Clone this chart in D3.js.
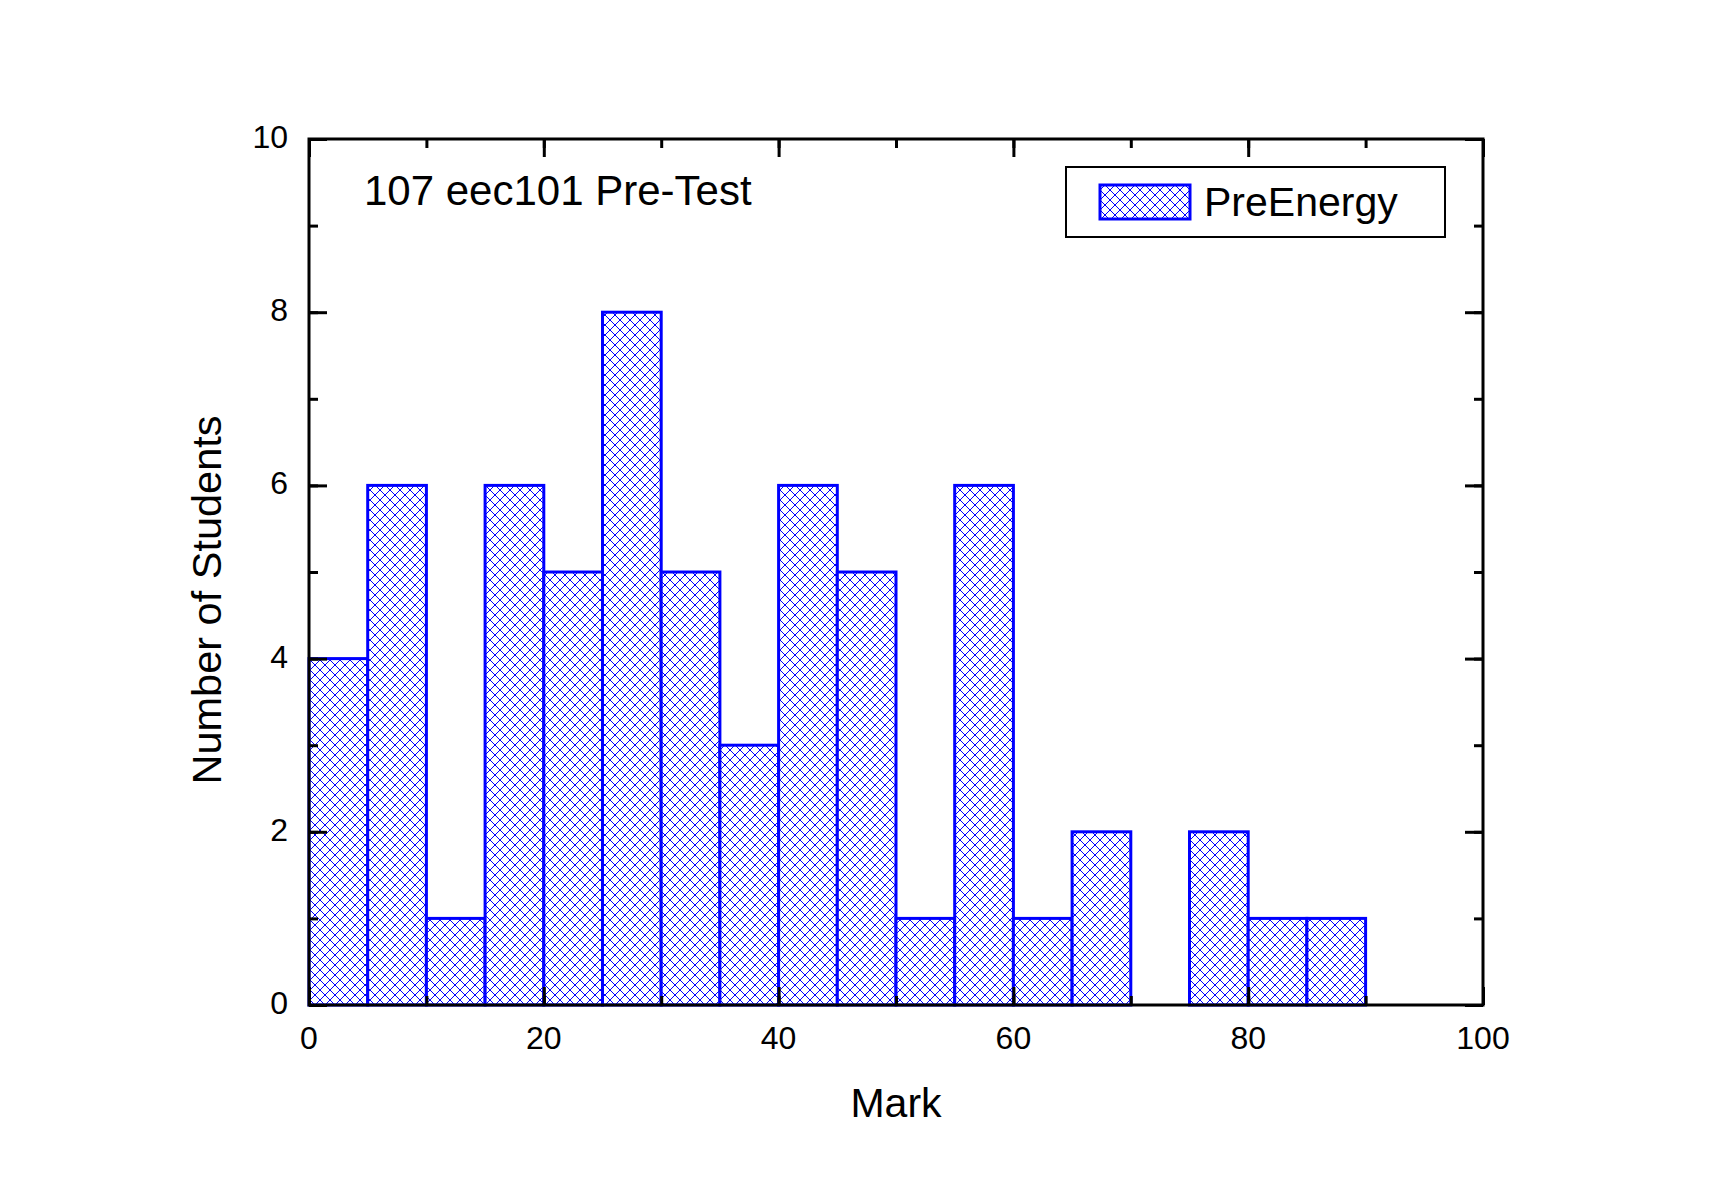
<!DOCTYPE html>
<html>
<head>
<meta charset="utf-8">
<script src="https://cdn.jsdelivr.net/npm/d3@7"></script>
<style>
  body { margin: 0; background: #fff; }
  text { font-family: "Liberation Sans", Arial, sans-serif; fill: #000; }
</style>
</head>
<body>
<div id="zone"></div>
<script>
(function() {
  "use strict";

  var binStarts = [0, 5, 10, 15, 20, 25, 30, 35, 40, 45, 50, 55, 60, 65, 70, 75, 80, 85];
  var counts    = [4, 6, 1, 6, 5, 8, 5, 3, 6, 5, 1, 6, 1, 2, 0, 2, 1, 1];
  var binWidth = 5;
  var xTicks = [0, 20, 40, 60, 80, 100];
  var yTicks = [0, 2, 4, 6, 8, 10];
  var seriesName = "PreEnergy";
  var titleText = "107 eec101 Pre-Test";

  var width = 1719, height = 1203;
  var left = 309, right = 1483, top = 139, bottom = 1005;
  var blue = "#0000ff";

  var x = d3.scaleLinear().domain([0, 100]).range([left, right]);
  var y = d3.scaleLinear().domain([0, 10]).range([bottom, top]);

  var svg = d3.select("#zone").append("svg")
      .attr("width", width)
      .attr("height", height);

  // motif quadrillé diagonal
  var pattern = svg.append("defs").append("pattern")
      .attr("id", "hatch")
      .attr("patternUnits", "userSpaceOnUse")
      .attr("width", 10)
      .attr("height", 10);
  pattern.append("rect").attr("width", 10).attr("height", 10).attr("fill", "#fff");
  pattern.append("path")
      .attr("d", "M0,0L10,10M10,0L0,10")
      .attr("stroke", blue)
      .attr("stroke-width", 1)
      .attr("fill", "none");

  // barres
  var bars = binStarts.map(function(d, i) { return { x0: d, n: counts[i] }; })
      .filter(function(d) { return d.n > 0; });

  svg.append("g").selectAll("rect")
    .data(bars)
    .enter().append("rect")
      .attr("x", function(d) { return x(d.x0); })
      .attr("y", function(d) { return y(d.n); })
      .attr("width", function(d) { return x(d.x0 + binWidth) - x(d.x0); })
      .attr("height", function(d) { return y(0) - y(d.n); })
      .attr("fill", "url(#hatch)")
      .attr("stroke", blue)
      .attr("stroke-width", 3);

  // axes (4 côtés, graduations vers l'intérieur)
  var minorX = d3.range(0, 101, 10);
  var minorY = d3.range(0, 11, 1);

  function tickAxis(axisFn, scale, values, len, transform) {
    svg.append("g")
      .attr("transform", transform)
      .call(axisFn(scale).tickValues(values).tickSize(len).tickFormat(""))
      .call(function(g) {
        g.select(".domain").remove();
        g.selectAll("line").attr("stroke", "#000").attr("stroke-width", 3);
      });
  }

  // bas
  tickAxis(d3.axisTop, x, minorX, 9, "translate(0," + bottom + ")");
  tickAxis(d3.axisTop, x, xTicks, 18, "translate(0," + bottom + ")");
  // haut
  tickAxis(d3.axisBottom, x, minorX, 9, "translate(0," + top + ")");
  tickAxis(d3.axisBottom, x, xTicks, 18, "translate(0," + top + ")");
  // gauche
  tickAxis(d3.axisRight, y, minorY, 9, "translate(" + left + ",0)");
  tickAxis(d3.axisRight, y, yTicks, 18, "translate(" + left + ",0)");
  // droite
  tickAxis(d3.axisLeft, y, minorY, 9, "translate(" + right + ",0)");
  tickAxis(d3.axisLeft, y, yTicks, 18, "translate(" + right + ",0)");

  svg.append("rect")
      .attr("x", left).attr("y", top)
      .attr("width", right - left).attr("height", bottom - top)
      .attr("fill", "none")
      .attr("stroke", "#000")
      .attr("stroke-width", 3);

  // étiquettes des graduations
  svg.append("g").selectAll("text")
    .data(xTicks)
    .enter().append("text")
      .attr("x", function(d) { return x(d); })
      .attr("y", 1049)
      .attr("text-anchor", "middle")
      .attr("font-size", 32)
      .text(function(d) { return d; });

  svg.append("g").selectAll("text")
    .data(yTicks)
    .enter().append("text")
      .attr("x", 288)
      .attr("y", function(d) { return y(d) + 9; })
      .attr("text-anchor", "end")
      .attr("font-size", 32)
      .text(function(d) { return d; });

  // titres des axes
  svg.append("text")
      .attr("x", (left + right) / 2)
      .attr("y", 1117)
      .attr("text-anchor", "middle")
      .attr("font-size", 41)
      .text("Mark");

  svg.append("text")
      .attr("transform", "translate(221,600) rotate(-90)")
      .attr("text-anchor", "middle")
      .attr("font-size", 41.5)
      .text("Number of Students");

  // titre dans le graphique
  svg.append("text")
      .attr("x", 364)
      .attr("y", 205)
      .attr("font-size", 42)
      .text(titleText);

  // légende
  var legend = svg.append("g");
  legend.append("rect")
      .attr("x", 1066).attr("y", 167)
      .attr("width", 379).attr("height", 70)
      .attr("fill", "#fff")
      .attr("stroke", "#000")
      .attr("stroke-width", 2);
  legend.append("rect")
      .attr("x", 1100).attr("y", 185)
      .attr("width", 90).attr("height", 34)
      .attr("fill", "url(#hatch)")
      .attr("stroke", blue)
      .attr("stroke-width", 3);
  legend.append("text")
      .attr("x", 1204)
      .attr("y", 216)
      .attr("font-size", 41)
      .text(seriesName);

})();
</script>
</body>
</html>
